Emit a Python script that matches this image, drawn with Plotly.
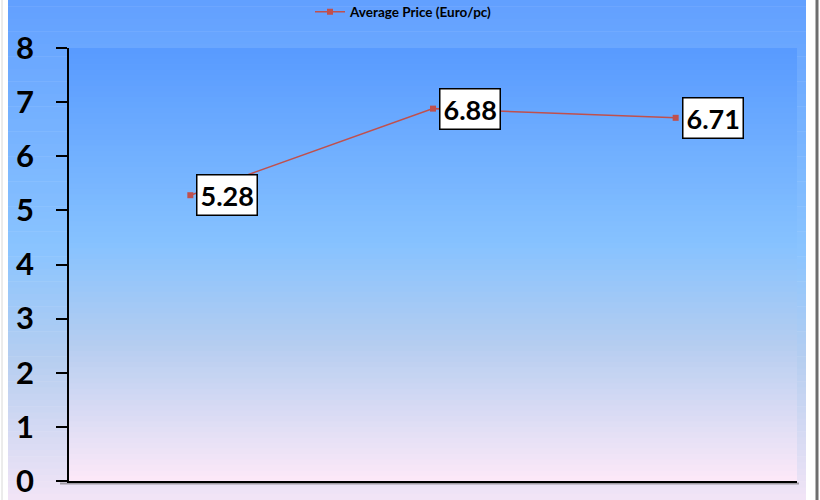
import plotly.graph_objects as go

categories = ["Period 1", "Period 2", "Period 3"]
avg_price = [5.28, 6.88, 6.71]
y_ticks = [0, 1, 2, 3, 4, 5, 6, 7, 8]
series_name = "Average Price (Euro/pc)"

W, H = 820, 500
L, R, T, B = 69, 797, 48, 481
PW, PH = R - L, B - T


def px_x(p):
    return (p - L) / PW


def px_y(p):
    return (B - p) / PH


def lerp(stops, t):
    for i in range(len(stops) - 1):
        t0, c0 = stops[i]
        t1, c1 = stops[i + 1]
        if t0 <= t <= t1:
            f = (t - t0) / (t1 - t0) if t1 > t0 else 0
            return tuple(round(c0[k] + (c1[k] - c0[k]) * f) for k in range(3))
    return stops[-1][1]


outer_stops = [(0.0, (98, 160, 255)), (0.5, (138, 196, 255)), (0.72, (182, 206, 240)), (1.0, (242, 228, 246))]
inner_stops = [(0.0, (88, 154, 255)), (0.45, (134, 194, 255)), (0.68, (180, 205, 240)), (1.0, (253, 233, 248))]

shapes = []
n = 80
top, bot = 0, 500
for i in range(n):
    y0 = top + (bot - top) * i / n
    y1 = top + (bot - top) * (i + 1) / n + 0.6
    c = lerp(outer_stops, (i + 0.5) / n)
    shapes.append(dict(type="rect", xref="paper", yref="paper", layer="below",
                       x0=px_x(8), x1=px_x(806), y0=px_y(y1), y1=px_y(y0),
                       fillcolor="rgb(%d,%d,%d)" % c, line=dict(width=0)))
for i in range(n):
    y0 = T + PH * i / n
    y1 = T + PH * (i + 1) / n + 0.6
    c = lerp(inner_stops, (i + 0.5) / n)
    shapes.append(dict(type="rect", xref="paper", yref="paper", layer="below",
                       x0=0, x1=1, y0=px_y(min(y1, B)), y1=px_y(y0),
                       fillcolor="rgb(%d,%d,%d)" % c, line=dict(width=0)))
shapes.append(dict(type="line", xref="paper", yref="paper", layer="below",
                   x0=px_x(817), x1=px_x(817), y0=px_y(0), y1=px_y(500),
                   line=dict(color="#6e6e6e", width=3)))
shapes.append(dict(type="line", xref="paper", yref="paper", layer="below",
                   x0=px_x(2), x1=px_x(2), y0=px_y(0), y1=px_y(500),
                   line=dict(color="#d8d8d8", width=1)))
shapes.append(dict(type="line", xref="paper", yref="paper", layer="below",
                   x0=px_x(60), x1=px_x(799), y0=px_y(483.5), y1=px_y(483.5),
                   line=dict(color="rgba(80,80,80,0.5)", width=2)))

fig = go.Figure()
fig.add_trace(go.Scatter(
    x=categories, y=avg_price, mode="lines+markers", name=series_name,
    line=dict(color="#C0504D", width=1.6),
    marker=dict(symbol="square", size=6, color="#C0504D"),
    showlegend=True,
))

annotations = []
for c, v in zip(categories, avg_price):
    annotations.append(dict(
        x=c, y=v, xref="x", yref="y", text="<b>%.2f</b>" % v, showarrow=False,
        xanchor="left", yanchor="middle", xshift=6,
        font=dict(family="Lato", size=27, color="black"),
        bgcolor="white", bordercolor="black", borderwidth=1.5, borderpad=3,
    ))

fig.update_layout(
    width=W, height=H,
    margin=dict(l=L, r=W - R, t=T, b=H - B, pad=0, autoexpand=False),
    paper_bgcolor="white", plot_bgcolor="rgba(0,0,0,0)",
    shapes=shapes, annotations=annotations,
    showlegend=True,
    legend=dict(orientation="h", x=px_x(404), xanchor="center", y=px_y(12), yanchor="middle",
                font=dict(family="Lato", size=13.5, color="black", weight="bold"),
                bgcolor="rgba(0,0,0,0)", itemwidth=30),
    xaxis=dict(type="category", range=[-0.5, 2.5], showticklabels=False, ticks="",
               showgrid=False, zeroline=False, showline=True, linecolor="black", linewidth=2,
               automargin=False),
    yaxis=dict(range=[0, 8], tickvals=y_ticks, ticks="outside", ticklen=11, tickwidth=1.5,
               tickcolor="black", showgrid=False, zeroline=False, showline=True,
               linecolor="black", linewidth=1.5, automargin=False,
               tickfont=dict(family="Lato", size=31, color="black", weight="bold"),
               ticklabelstandoff=16),
)

fig.write_html("out.html", config={"displayModeBar": False},
               post_script="document.body.style.margin='0';document.body.style.padding='0';")
